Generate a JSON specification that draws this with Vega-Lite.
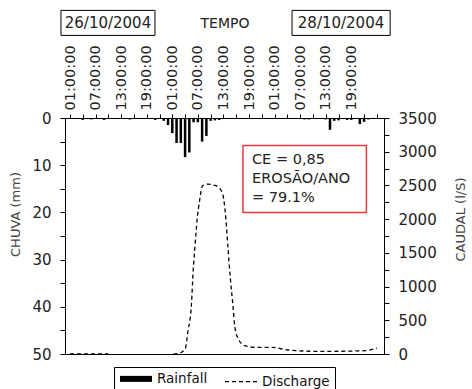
{
  "$schema": "https://vega.github.io/schema/vega-lite/v6.json",
  "width": 319,
  "height": 236,
  "padding": {"left": 9, "top": 9, "right": 2, "bottom": 0},
  "config": {
    "font": "DejaVu Sans",
    "view": {"stroke": "black", "strokeWidth": 1},
    "axis": {
      "labelFont": "DejaVu Sans", "labelFontSize": 15, "labelColor": "#222",
      "titleFont": "DejaVu Sans", "titleFontSize": 13, "titleFontWeight": "normal", "titleColor": "#444",
      "domainColor": "black", "tickColor": "black", "grid": false
    },
    "legend": {"layout": {"bottom": {"anchor": "middle"}}}
  },
  "datasets": {
    "rain": [
      {"t": "2004-10-26T04:00", "chuva": 0.4},
      {"t": "2004-10-26T06:00", "chuva": 0.3},
      {"t": "2004-10-26T09:00", "chuva": 0.4},
      {"t": "2004-10-26T15:00", "chuva": 0.3},
      {"t": "2004-10-26T21:00", "chuva": 0.4},
      {"t": "2004-10-26T23:00", "chuva": 0.6},
      {"t": "2004-10-27T00:00", "chuva": 1.5},
      {"t": "2004-10-27T01:00", "chuva": 3.2},
      {"t": "2004-10-27T02:00", "chuva": 5.3},
      {"t": "2004-10-27T03:00", "chuva": 5.3},
      {"t": "2004-10-27T04:00", "chuva": 8.3},
      {"t": "2004-10-27T05:00", "chuva": 7.3},
      {"t": "2004-10-27T06:00", "chuva": 0.9},
      {"t": "2004-10-27T07:00", "chuva": 0.9},
      {"t": "2004-10-27T08:00", "chuva": 5.0},
      {"t": "2004-10-27T09:00", "chuva": 3.8},
      {"t": "2004-10-27T10:00", "chuva": 0.6},
      {"t": "2004-10-27T11:00", "chuva": 0.5},
      {"t": "2004-10-27T12:00", "chuva": 0.4},
      {"t": "2004-10-28T08:00", "chuva": 0.3},
      {"t": "2004-10-28T09:00", "chuva": 0.3},
      {"t": "2004-10-28T13:00", "chuva": 0.3},
      {"t": "2004-10-28T14:00", "chuva": 2.5},
      {"t": "2004-10-28T15:00", "chuva": 0.6},
      {"t": "2004-10-28T16:00", "chuva": 0.5},
      {"t": "2004-10-28T18:00", "chuva": 0.4},
      {"t": "2004-10-28T19:00", "chuva": 0.4},
      {"t": "2004-10-28T21:00", "chuva": 1.3},
      {"t": "2004-10-28T22:00", "chuva": 0.8},
      {"t": "2004-10-28T23:00", "chuva": 0.3}
    ],
    "flow": [
      {"t": "2004-10-26T01:00", "caudal": 0, "seg": "a"},
      {"t": "2004-10-26T10:00", "caudal": 0, "seg": "a"},
      {"t": "2004-10-27T01:18", "caudal": 0, "seg": "b"},
      {"t": "2004-10-27T02:30", "caudal": 9, "seg": "b"},
      {"t": "2004-10-27T04:00", "caudal": 74, "seg": "b"},
      {"t": "2004-10-27T04:42", "caudal": 345, "seg": "b"},
      {"t": "2004-10-27T05:30", "caudal": 741, "seg": "b"},
      {"t": "2004-10-27T05:54", "caudal": 1235, "seg": "b"},
      {"t": "2004-10-27T06:18", "caudal": 1581, "seg": "b"},
      {"t": "2004-10-27T06:48", "caudal": 1977, "seg": "b"},
      {"t": "2004-10-27T07:24", "caudal": 2273, "seg": "b"},
      {"t": "2004-10-27T08:06", "caudal": 2496, "seg": "b"},
      {"t": "2004-10-27T09:18", "caudal": 2518, "seg": "b"},
      {"t": "2004-10-27T11:12", "caudal": 2496, "seg": "b"},
      {"t": "2004-10-27T12:42", "caudal": 2397, "seg": "b"},
      {"t": "2004-10-27T13:24", "caudal": 2125, "seg": "b"},
      {"t": "2004-10-27T14:00", "caudal": 1631, "seg": "b"},
      {"t": "2004-10-27T14:36", "caudal": 1136, "seg": "b"},
      {"t": "2004-10-27T15:12", "caudal": 741, "seg": "b"},
      {"t": "2004-10-27T15:42", "caudal": 394, "seg": "b"},
      {"t": "2004-10-27T16:30", "caudal": 222, "seg": "b"},
      {"t": "2004-10-27T18:00", "caudal": 123, "seg": "b"},
      {"t": "2004-10-27T20:36", "caudal": 98, "seg": "b"},
      {"t": "2004-10-28T00:24", "caudal": 98, "seg": "b"},
      {"t": "2004-10-28T04:06", "caudal": 59, "seg": "b"},
      {"t": "2004-10-28T11:48", "caudal": 39, "seg": "b"},
      {"t": "2004-10-28T22:18", "caudal": 49, "seg": "b"},
      {"t": "2004-10-29T01:00", "caudal": 89, "seg": "b"}
    ],
    "note": [{"label": "CE = 0,85\nEROSÃO/ANO\n= 79.1%"}],
    "d1": [{"label": "26/10/2004"}],
    "d2": [{"label": "28/10/2004"}]
  },
  "layer": [
    {
      "encoding": {
        "x": {
          "field": "t", "type": "temporal",
          "scale": {"domain": [{"year": 2004, "month": 10, "date": 26, "hours": 1}, {"year": 2004, "month": 10, "date": 29, "hours": 1, "minutes": 30}], "nice": false},
          "axis": {
            "orient": "top", "title": "TEMPO", "titlePadding": 14, "titleFontSize": 14, "titleColor": "#222",
            "values": [
              {"year": 2004, "month": 10, "date": 26, "hours": 1}, {"year": 2004, "month": 10, "date": 26, "hours": 4},
              {"year": 2004, "month": 10, "date": 26, "hours": 7}, {"year": 2004, "month": 10, "date": 26, "hours": 10},
              {"year": 2004, "month": 10, "date": 26, "hours": 13}, {"year": 2004, "month": 10, "date": 26, "hours": 16},
              {"year": 2004, "month": 10, "date": 26, "hours": 19}, {"year": 2004, "month": 10, "date": 26, "hours": 22},
              {"year": 2004, "month": 10, "date": 27, "hours": 1}, {"year": 2004, "month": 10, "date": 27, "hours": 4},
              {"year": 2004, "month": 10, "date": 27, "hours": 7}, {"year": 2004, "month": 10, "date": 27, "hours": 10},
              {"year": 2004, "month": 10, "date": 27, "hours": 13}, {"year": 2004, "month": 10, "date": 27, "hours": 16},
              {"year": 2004, "month": 10, "date": 27, "hours": 19}, {"year": 2004, "month": 10, "date": 27, "hours": 22},
              {"year": 2004, "month": 10, "date": 28, "hours": 1}, {"year": 2004, "month": 10, "date": 28, "hours": 4},
              {"year": 2004, "month": 10, "date": 28, "hours": 7}, {"year": 2004, "month": 10, "date": 28, "hours": 10},
              {"year": 2004, "month": 10, "date": 28, "hours": 13}, {"year": 2004, "month": 10, "date": 28, "hours": 16},
              {"year": 2004, "month": 10, "date": 28, "hours": 19}, {"year": 2004, "month": 10, "date": 28, "hours": 22},
              {"year": 2004, "month": 10, "date": 29, "hours": 1}
            ],
            "labelExpr": "hours(datum.value) % 6 == 1 && datum.value < datetime(2004, 9, 29, 0) ? timeFormat(datum.value, '%H:%M:%S') : ''",
            "labelAngle": 270, "labelAlign": "left", "labelBaseline": "middle", "labelFontSize": 14.5,
            "tickSize": 4, "labelPadding": 4, "labelOverlap": false, "labelFlush": false, "labelBound": false
          }
        }
      },
      "layer": [
        {
          "data": {"name": "rain"},
          "mark": {"type": "bar", "width": 2.5},
          "encoding": {
            "y": {
              "field": "chuva", "type": "quantitative",
              "scale": {"domain": [0, 50], "reverse": true, "nice": false},
              "axis": {
                "orient": "left", "title": "CHUVA (mm)", "titlePadding": 9, "titleY": 96,
                "values": [0, 5, 10, 15, 20, 25, 30, 35, 40, 45, 50],
                "labelExpr": "datum.value % 10 == 0 ? datum.label : ''",
                "tickSize": 5, "labelPadding": 9
              }
            },
            "color": {
              "datum": "Rainfall", "type": "nominal",
              "scale": {"domain": ["Rainfall", "Discharge"], "range": ["black", "black"]},
              "legend": {
                "title": null, "orient": "bottom", "direction": "horizontal",
                "strokeColor": "black", "padding": 5, "offset": 10,
                "labelFontSize": 13.5, "labelColor": "#111", "labelFont": "DejaVu Sans",
                "symbolType": "stroke", "symbolSize": 1024, "columnPadding": 14,
                "encode": {
                  "symbols": {
                    "update": {
                      "x": {"value": 17},
                      "shape": {"value": "stroke"},
                      "fill": {"value": "transparent"},
                      "stroke": {"value": "black"},
                      "strokeDash": {"signal": "datum.value === 'Rainfall' ? [100, 0] : [4, 3]"},
                      "strokeWidth": {"signal": "datum.value === 'Rainfall' ? 6 : 1.3"}
                    }
                  },
                  "labels": {
                    "update": {"x": {"value": 38}}
                  }
                }
              }
            }
          }
        },
        {
          "data": {"name": "flow"},
          "mark": {"type": "line", "strokeDash": [4, 3], "strokeWidth": 1.3, "interpolate": "monotone"},
          "encoding": {
            "y": {
              "field": "caudal", "type": "quantitative",
              "scale": {"domain": [0, 3500], "nice": false},
              "axis": {
                "orient": "right", "title": "CAUDAL (l/S)", "titleAngle": 270, "titleBaseline": "top", "titlePadding": 18, "titleY": 101,
                "values": [0, 250, 500, 750, 1000, 1250, 1500, 1750, 2000, 2250, 2500, 2750, 3000, 3250, 3500],
                "labelExpr": "datum.value % 500 == 0 ? format(datum.value, 'd') : ''",
                "tickSize": 5, "labelPadding": 9
              }
            },
            "detail": {"field": "seg"},
            "color": {"datum": "Discharge", "type": "nominal"}
          }
        }
      ],
      "resolve": {"scale": {"y": "independent"}, "axis": {"y": "independent"}}
    },
    {
      "layer": [
        {
          "data": {"name": "note"},
          "mark": {"type": "rect", "fill": "white", "stroke": "#e83a3a", "strokeWidth": 1.5},
          "encoding": {
            "x": {"datum": {"year": 2004, "month": 10, "date": 27, "hours": 17, "minutes": 27}, "type": "temporal", "axis": null,
                  "scale": {"domain": [{"year": 2004, "month": 10, "date": 26, "hours": 1}, {"year": 2004, "month": 10, "date": 29, "hours": 1, "minutes": 30}], "nice": false}},
            "x2": {"datum": {"year": 2004, "month": 10, "date": 28, "hours": 21, "minutes": 30}},
            "y": {"datum": 5.8, "type": "quantitative", "axis": null, "scale": {"domain": [0, 50], "reverse": true, "nice": false}},
            "y2": {"datum": 20.0}
          }
        },
        {
          "data": {"name": "note"},
          "mark": {"type": "text", "align": "left", "baseline": "middle", "lineBreak": "\n", "lineHeight": 19, "fontSize": 14.5, "color": "#222", "font": "DejaVu Sans"},
          "encoding": {
            "x": {"datum": {"year": 2004, "month": 10, "date": 27, "hours": 19, "minutes": 30}, "type": "temporal", "axis": null,
                  "scale": {"domain": [{"year": 2004, "month": 10, "date": 26, "hours": 1}, {"year": 2004, "month": 10, "date": 29, "hours": 1, "minutes": 30}], "nice": false}},
            "y": {"datum": 9.0, "type": "quantitative", "axis": null, "scale": {"domain": [0, 50], "reverse": true, "nice": false}},
            "text": {"field": "label"}
          }
        },
        {
          "data": {"name": "d1"},
          "mark": {"type": "rect", "fill": "white", "stroke": "black", "strokeWidth": 1, "clip": false},
          "encoding": {
            "x": {"datum": {"year": 2004, "month": 10, "date": 26, "hours": 0, "minutes": 5}, "type": "temporal", "axis": null,
                  "scale": {"domain": [{"year": 2004, "month": 10, "date": 26, "hours": 1}, {"year": 2004, "month": 10, "date": 29, "hours": 1, "minutes": 30}], "nice": false}},
            "x2": {"datum": {"year": 2004, "month": 10, "date": 26, "hours": 21, "minutes": 27}},
            "y": {"datum": -22.8, "type": "quantitative", "axis": null, "scale": {"domain": [0, 50], "reverse": true, "nice": false}},
            "y2": {"datum": -17.5}
          }
        },
        {
          "data": {"name": "d1"},
          "mark": {"type": "text", "align": "center", "baseline": "middle", "fontSize": 15, "color": "#222", "font": "DejaVu Sans", "clip": false},
          "encoding": {
            "x": {"datum": {"year": 2004, "month": 10, "date": 26, "hours": 10, "minutes": 46}, "type": "temporal", "axis": null,
                  "scale": {"domain": [{"year": 2004, "month": 10, "date": 26, "hours": 1}, {"year": 2004, "month": 10, "date": 29, "hours": 1, "minutes": 30}], "nice": false}},
            "y": {"datum": -20.1, "type": "quantitative", "axis": null, "scale": {"domain": [0, 50], "reverse": true, "nice": false}},
            "text": {"field": "label"}
          }
        },
        {
          "data": {"name": "d2"},
          "mark": {"type": "rect", "fill": "white", "stroke": "black", "strokeWidth": 1, "clip": false},
          "encoding": {
            "x": {"datum": {"year": 2004, "month": 10, "date": 28, "hours": 4, "minutes": 36}, "type": "temporal", "axis": null,
                  "scale": {"domain": [{"year": 2004, "month": 10, "date": 26, "hours": 1}, {"year": 2004, "month": 10, "date": 29, "hours": 1, "minutes": 30}], "nice": false}},
            "x2": {"datum": {"year": 2004, "month": 10, "date": 29, "hours": 2, "minutes": 54}},
            "y": {"datum": -22.8, "type": "quantitative", "axis": null, "scale": {"domain": [0, 50], "reverse": true, "nice": false}},
            "y2": {"datum": -17.5}
          }
        },
        {
          "data": {"name": "d2"},
          "mark": {"type": "text", "align": "center", "baseline": "middle", "fontSize": 15, "color": "#222", "font": "DejaVu Sans", "clip": false},
          "encoding": {
            "x": {"datum": {"year": 2004, "month": 10, "date": 28, "hours": 15, "minutes": 44}, "type": "temporal", "axis": null,
                  "scale": {"domain": [{"year": 2004, "month": 10, "date": 26, "hours": 1}, {"year": 2004, "month": 10, "date": 29, "hours": 1, "minutes": 30}], "nice": false}},
            "y": {"datum": -20.1, "type": "quantitative", "axis": null, "scale": {"domain": [0, 50], "reverse": true, "nice": false}},
            "text": {"field": "label"}
          }
        }
      ]
    }
  ],
  "resolve": {"scale": {"x": "independent", "y": "independent"}, "axis": {"x": "independent", "y": "independent"}}
}
